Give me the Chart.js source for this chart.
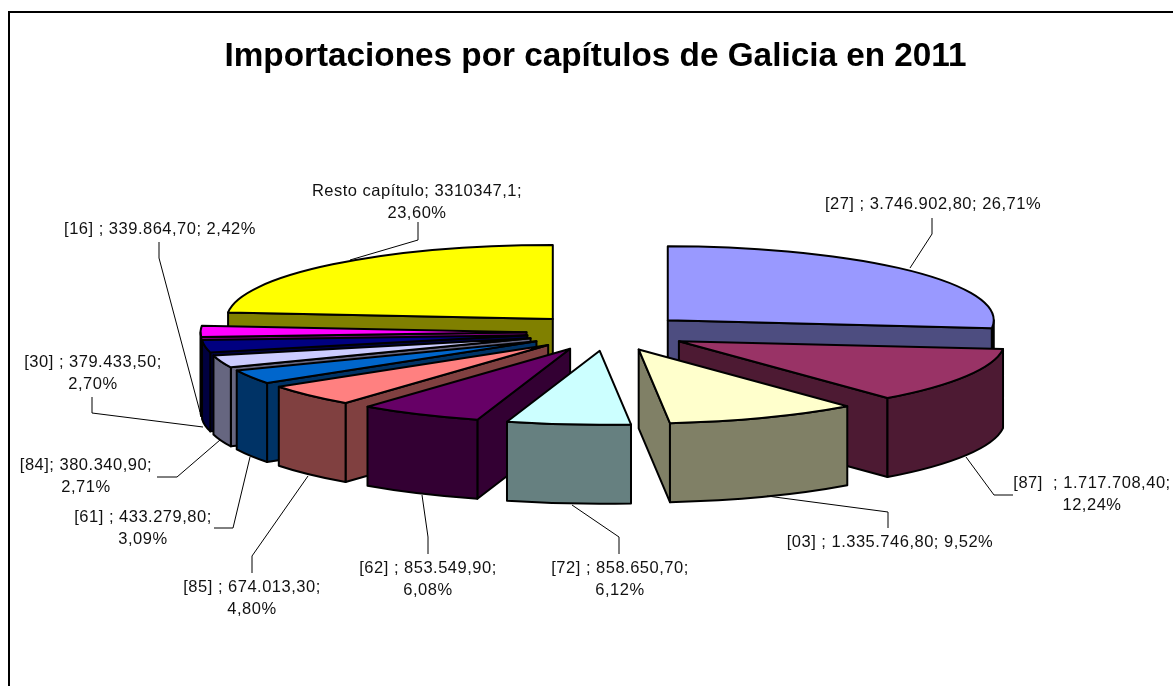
<!DOCTYPE html>
<html>
<head>
<meta charset="utf-8">
<title>Importaciones por capítulos de Galicia en 2011</title>
<script src="https://cdn.jsdelivr.net/npm/chart.js@4"></script>
<style>
    html, body { margin: 0; padding: 0; background: #fff; }
    canvas { display: block; }
</style>
</head>
<body>
<canvas id="chart1" width="1173" height="686"></canvas>
<script>
/** Datos */
const categorias = ['[27]', '[87]', '[03]', '[72]', '[62]', '[85]', '[61]', '[84]', '[30]', '[16]', 'Resto capítulo'];
const valores = [3746902.80, 1717708.40, 1335746.80, 858650.70, 853549.90, 674013.30, 433279.80, 380340.90, 379433.50, 339864.70, 3310347.1];
const coloresTapa = ['#9999FF', '#993366', '#FFFFCC', '#CCFFFF', '#660066', '#FF8080', '#0066CC', '#CCCCFF', '#000080', '#FF00FF', '#FFFF00'];
const coloresLado = ['#4D4D80', '#4D1A33', '#808066', '#668080', '#330033', '#804040', '#003366', '#666680', '#000040', '#800080', '#808000'];
const etiquetas = [
    ['[27] ; 3.746.902,80; 26,71%'],
    ['[87]  ; 1.717.708,40;', '12,24%'],
    ['[03] ; 1.335.746,80; 9,52%'],
    ['[72] ; 858.650,70;', '6,12%'],
    ['[62] ; 853.549,90;', '6,08%'],
    ['[85] ; 674.013,30;', '4,80%'],
    ['[61] ; 433.279,80;', '3,09%'],
    ['[84]; 380.340,90;', '2,71%'],
    ['[30] ; 379.433,50;', '2,70%'],
    ['[16] ; 339.864,70; 2,42%'],
    ['Resto capítulo; 3310347,1;', '23,60%']
];

/** Colocacion de etiquetas y lineas guia */
const posEtiquetas = [[933, 204], [1092, 483], [890, 542], [620, 568], [428, 568], [252, 587], [143, 517], [86, 465], [93, 362], [160, 229], [417, 191]];
const guias = [
    [[932, 218], [932, 234], [910, 268]],
    [[1013, 495], [994, 495], [966, 457]],
    [[888, 528], [888, 512], [767, 496]],
    [[619, 554], [619, 537], [572, 505]],
    [[428, 554], [428, 537], [422, 495]],
    [[252, 573], [252, 556], [308, 476]],
    [[214, 528], [233, 528], [250, 457]],
    [[157, 477], [177, 477], [220, 440]],
    [[92, 397], [92, 413], [203, 427]],
    [[159, 242], [159, 258], [200, 412]],
    [[418, 222], [418, 240], [350, 260]]
];

/** Geometria de la tarta 3D */
const pie3d = { cx: 607.5, cy: 332.5, rx: 326, ry: 74, alto: 79, separacion: 81 };

function dibujarCara(ctx, x, y, a, color) {
    const bx = x + Math.cos(a) * pie3d.rx;
    const by = y + Math.sin(a) * pie3d.ry;
    ctx.beginPath();
    ctx.moveTo(x, y);
    ctx.lineTo(bx, by);
    ctx.lineTo(bx, by + pie3d.alto);
    ctx.lineTo(x, y + pie3d.alto);
    ctx.closePath();
    ctx.fillStyle = color;
    ctx.fill();
    ctx.stroke();
}

function dibujarPared(ctx, x, y, a0, a1, color) {
    // solo la parte delantera del borde (entre 0 y PI en angulos de canvas)
    const ini = Math.max(a0, 0);
    const fin = Math.min(a1, Math.PI);
    if (fin <= ini) return;
    ctx.beginPath();
    ctx.ellipse(x, y, pie3d.rx, pie3d.ry, 0, ini, fin);
    ctx.ellipse(x, y + pie3d.alto, pie3d.rx, pie3d.ry, 0, fin, ini, true);
    ctx.closePath();
    ctx.fillStyle = color;
    ctx.fill();
    ctx.stroke();
}

const tarta3d = {
    id: 'tarta3d',
    beforeDraw(chart) {
        const ctx = chart.ctx;
        ctx.save();
        ctx.fillStyle = '#fff';
        ctx.fillRect(0, 0, chart.width, chart.height);
        ctx.strokeStyle = '#000';
        ctx.lineWidth = 2;
        ctx.beginPath();
        ctx.moveTo(9, 700);
        ctx.lineTo(9, 12);
        ctx.lineTo(1180, 12);
        ctx.stroke();
        ctx.restore();
    },
    beforeDatasetsDraw(chart) {
        const ctx = chart.ctx;
        const arcos = chart.getDatasetMeta(0).data;

        // orden del pintor: de atras hacia delante
        const orden = arcos.map((el, i) => i).sort((p, q) => {
            const mp = (arcos[p].startAngle + arcos[p].endAngle) / 2;
            const mq = (arcos[q].startAngle + arcos[q].endAngle) / 2;
            return Math.sin(mp) - Math.sin(mq);
        });

        orden.forEach(i => {
            const el = arcos[i];
            const mitad = (el.startAngle + el.endAngle) / 2;
            const x = pie3d.cx + Math.cos(mitad) * pie3d.separacion;
            const y = pie3d.cy + Math.sin(mitad) * pie3d.separacion * pie3d.ry / pie3d.rx;

            ctx.save();
            ctx.lineWidth = 2;
            ctx.lineJoin = 'round';
            ctx.strokeStyle = '#000';

            // caras laterales
            if (Math.cos(el.startAngle) < 0 ) {
                dibujarCara(ctx, x, y, el.startAngle, coloresLado[i]);
            }
            if (Math.cos(el.endAngle) > 0) {
                dibujarCara(ctx, x, y, el.endAngle, coloresLado[i]);
            }
            dibujarPared(ctx, x, y, el.startAngle, el.endAngle, coloresLado[i]);

            // tapa: el arco de Chart.js aplastado
            ctx.save();
            ctx.translate(x, y);
            ctx.scale(pie3d.rx / el.outerRadius, pie3d.ry / el.outerRadius);
            ctx.translate(-el.x, -el.y);
            el.draw(ctx);
            ctx.restore();

            ctx.beginPath();
            ctx.moveTo(x, y);
            ctx.ellipse(x, y, pie3d.rx, pie3d.ry, 0, el.startAngle, el.endAngle);
            ctx.closePath();
            ctx.stroke();
            ctx.restore();
        });
        return false;
    },
    afterDraw(chart) {
        const ctx = chart.ctx;
        ctx.save();
        ctx.strokeStyle = '#000';
        ctx.lineWidth = 1;
        guias.forEach(g => {
            ctx.beginPath();
            g.forEach((p, j) => j === 0 ? ctx.moveTo(p[0], p[1]) : ctx.lineTo(p[0], p[1]));
            ctx.stroke();
        });
        ctx.fillStyle = '#111';
        ctx.font = '16.5px "Liberation Sans", Arial, sans-serif';
        ctx.letterSpacing = '0.5px';
        ctx.textAlign = 'center';
        ctx.textBaseline = 'middle';
        etiquetas.forEach((lineas, i) => {
            lineas.forEach((txt, j) => {
                ctx.fillText(txt, posEtiquetas[i][0], posEtiquetas[i][1] + j * 22.5);
            });
        });
        ctx.restore();
    }
};

const myChart = new Chart(document.getElementById('chart1').getContext('2d'), {
    type: 'pie',
    data: {
        labels: categorias,
        datasets: [{
            data: valores,
            backgroundColor: coloresTapa,
            borderWidth: 0
        }]
    },
    options: {
        responsive: false,
        animation: false,
        layout: { padding: { left: 18, top: 37, bottom: 20 } },
        plugins: {
            legend: { display: false },
            tooltip: { enabled: false },
            title: {
                display: true,
                text: 'Importaciones por capítulos de Galicia en 2011',
                color: '#000',
                font: { family: '"Liberation Sans", Arial, sans-serif', size: 33.3, weight: 'bold' },
                padding: 0
            }
        }
    },
    plugins: [tarta3d]
});
</script>
</body>
</html>
